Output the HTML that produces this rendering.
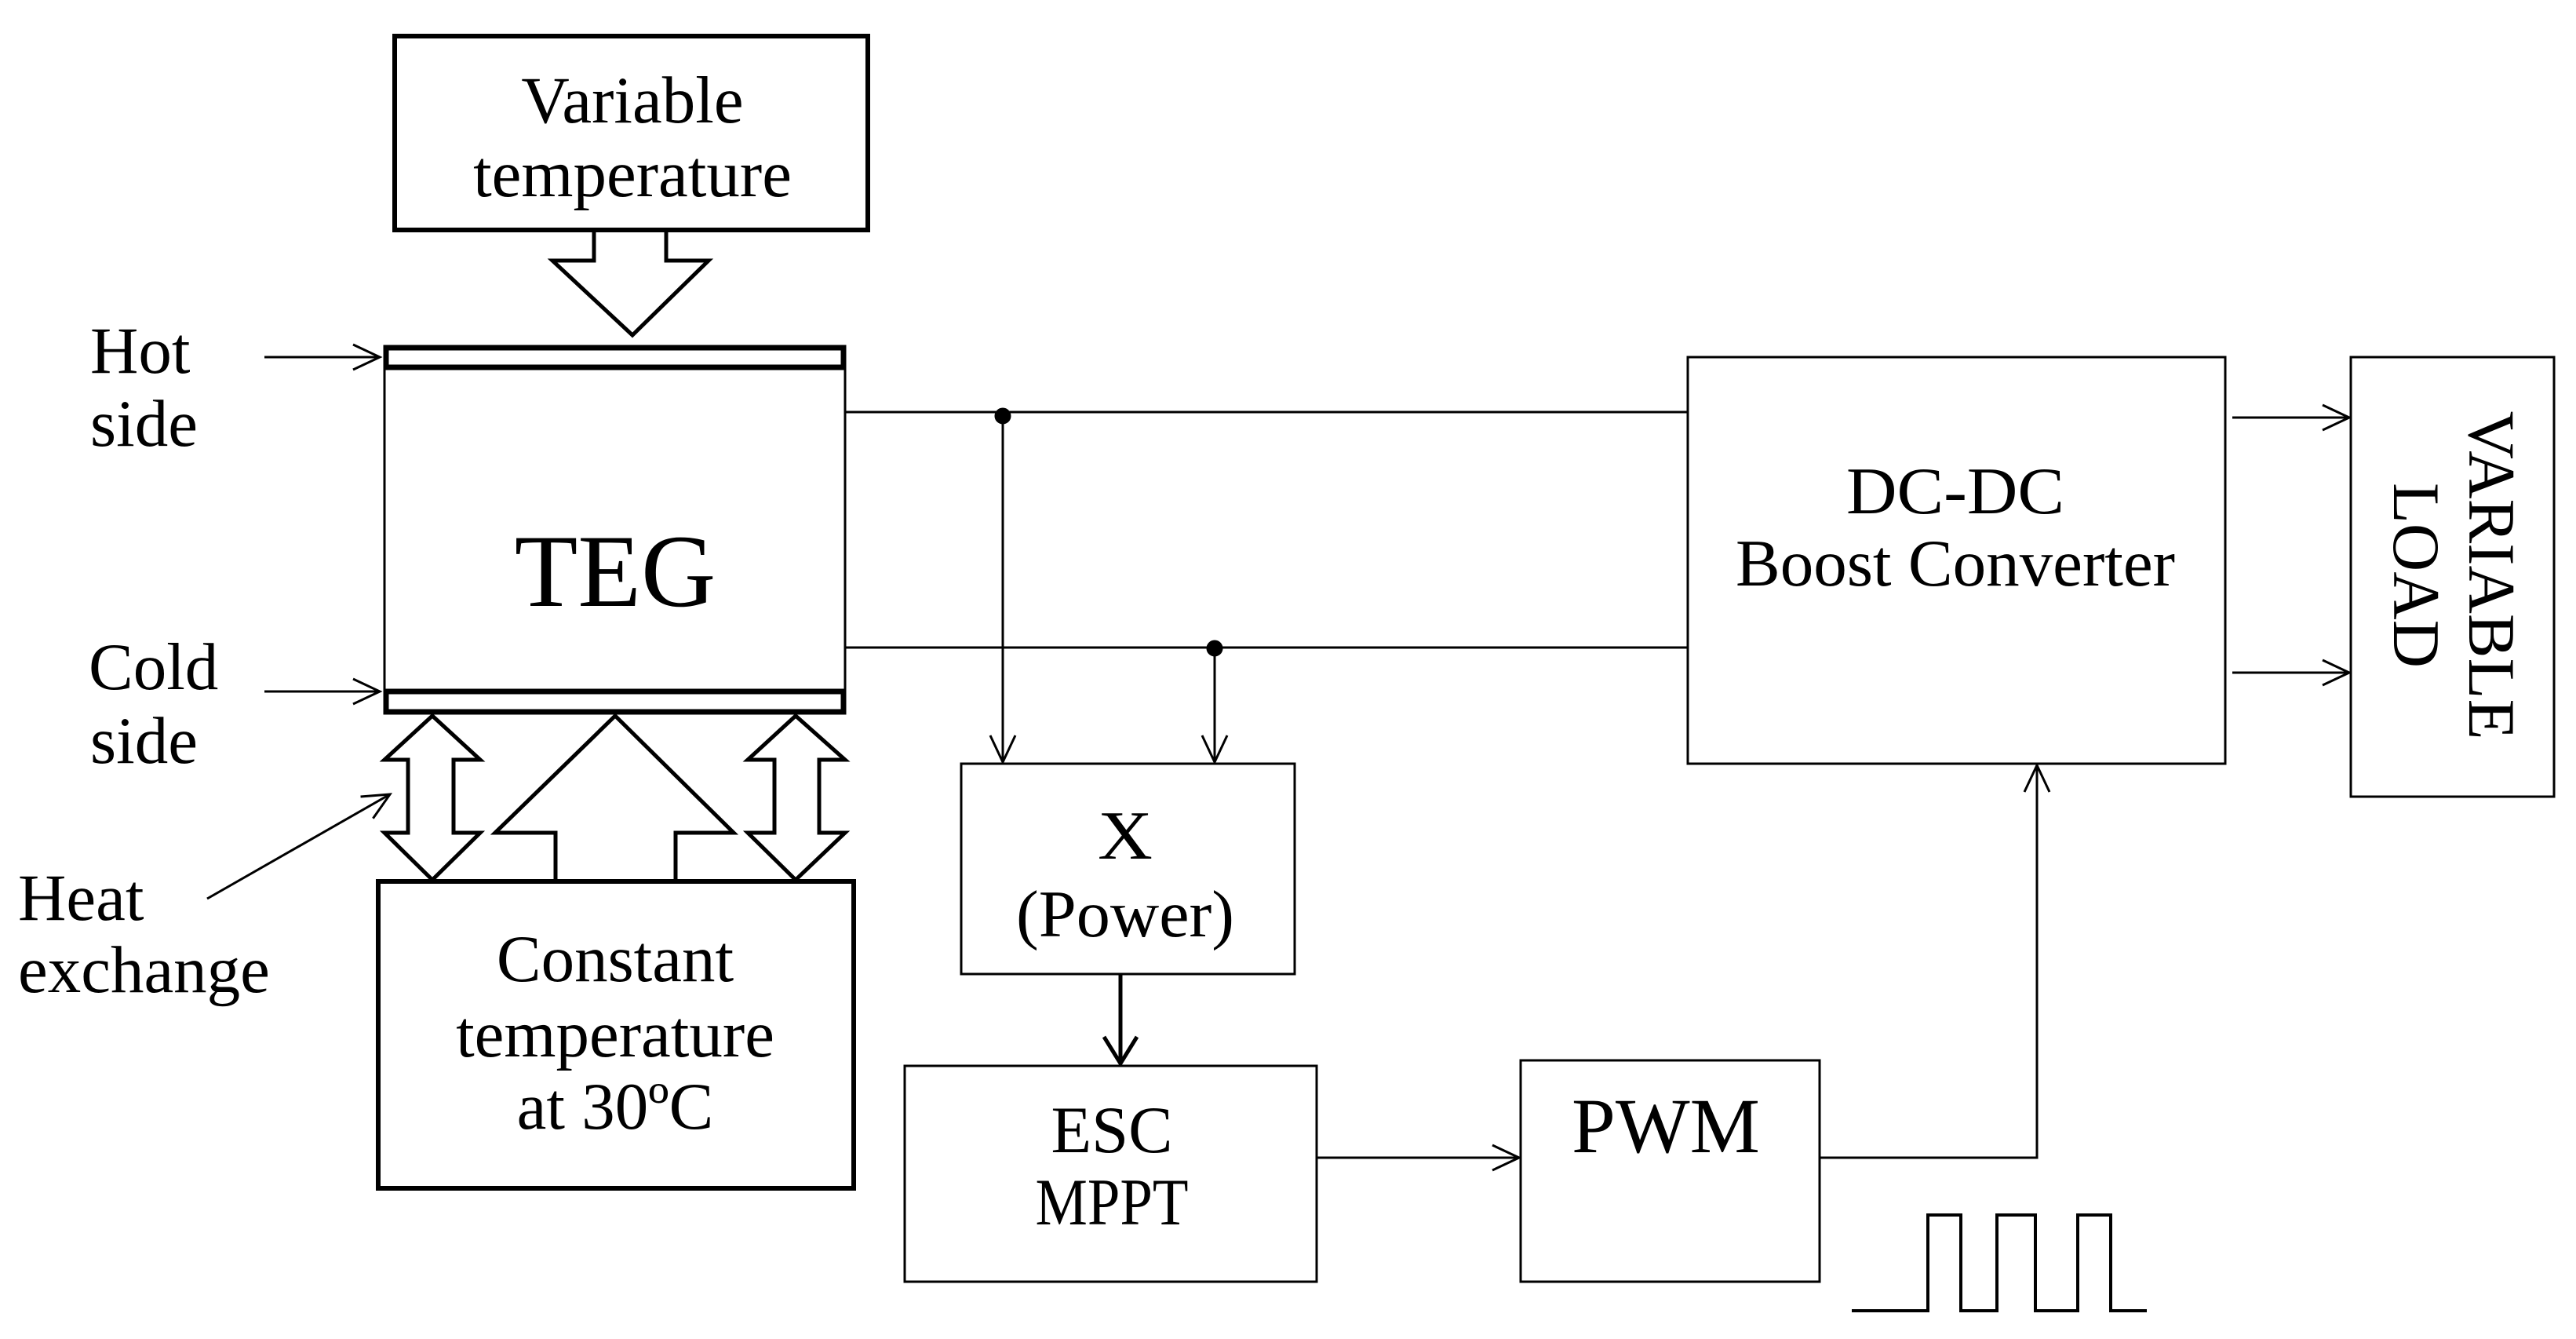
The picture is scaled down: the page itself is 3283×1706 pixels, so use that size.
<!DOCTYPE html>
<html><head><meta charset="utf-8"><style>html,body{margin:0;padding:0;background:#fff}svg{display:block}</style></head>
<body>
<svg width="3283" height="1706" viewBox="0 0 3283 1706" xmlns="http://www.w3.org/2000/svg" font-family="'Liberation Serif', serif" fill="none" stroke="#000">
<defs>
<marker id="a" markerWidth="40" markerHeight="40" refX="36" refY="20" orient="auto" markerUnits="userSpaceOnUse">
<path d="M2,4 L36,20 L2,36" stroke="#000" stroke-width="3" fill="none"/></marker>
<marker id="b" markerWidth="40" markerHeight="50" refX="36" refY="25" orient="auto" markerUnits="userSpaceOnUse">
<path d="M2,4 L36,25 L2,46" stroke="#000" stroke-width="5" fill="none"/></marker>
</defs>
<rect x="503" y="46" width="603" height="247" stroke-width="6"/>
<path d="M757,293 V332 H704 L806,427 L903,332 H849 V293" stroke-width="5"/>
<rect x="490" y="470" width="587" height="409" stroke-width="3"/>
<rect x="492" y="443" width="583" height="25" stroke-width="7"/>
<rect x="492" y="881" width="583" height="26" stroke-width="7"/>
<path d="M551,912 L612,968 H578 V1061 H612 L551,1121 L490,1061 H520 V968 H490 Z" stroke-width="5"/>
<path d="M1014,912 L1077,968 H1044 V1061 H1077 L1014,1121 L953,1061 H987 V968 H953 Z" stroke-width="5"/>
<path d="M708,1123 V1061 H631 L784,912 L935,1061 H861 V1123" stroke-width="5"/>
<rect x="482" y="1123" width="606" height="391" stroke-width="6"/>
<line x1="337" y1="455" x2="484" y2="455" stroke-width="3" marker-end="url(#a)"/>
<line x1="337" y1="881" x2="484" y2="881" stroke-width="3" marker-end="url(#a)"/>
<line x1="264" y1="1145" x2="497" y2="1012" stroke-width="3" marker-end="url(#a)"/>
<line x1="1077" y1="525" x2="2151" y2="525" stroke-width="3"/>
<line x1="1077" y1="825" x2="2151" y2="825" stroke-width="3"/>
<circle cx="1278" cy="530" r="10" fill="#000"/>
<circle cx="1548" cy="826" r="10" fill="#000"/>
<line x1="1278" y1="530" x2="1278" y2="971" stroke-width="3" marker-end="url(#a)"/>
<line x1="1548" y1="826" x2="1548" y2="971" stroke-width="3" marker-end="url(#a)"/>
<rect x="1225" y="973" width="425" height="268" stroke-width="3"/>
<line x1="1428" y1="1241" x2="1428" y2="1355" stroke-width="5" marker-end="url(#b)"/>
<rect x="1153" y="1358" width="525" height="275" stroke-width="3"/>
<line x1="1678" y1="1475" x2="1936" y2="1475" stroke-width="3" marker-end="url(#a)"/>
<rect x="1938" y="1351" width="381" height="282" stroke-width="3"/>
<polyline points="2319,1475 2596,1475 2596,975" stroke-width="3" marker-end="url(#a)"/>
<rect x="2151" y="455" width="685" height="518" stroke-width="3"/>
<line x1="2845" y1="532" x2="2994" y2="532" stroke-width="3" marker-end="url(#a)"/>
<line x1="2845" y1="857" x2="2994" y2="857" stroke-width="3" marker-end="url(#a)"/>
<rect x="2996" y="455" width="259" height="560" stroke-width="3"/>
<polyline points="2360,1670 2457,1670 2457,1548 2499,1548 2499,1670 2545,1670 2545,1548 2594,1548 2594,1670 2648,1670 2648,1548 2690,1548 2690,1670 2736,1670" stroke-width="4"/>
<g fill="#000" stroke="none" text-anchor="middle" font-size="85">
<text x="806" y="156">Variable</text>
<text x="806" y="250">temperature</text>
<text x="784" y="772" font-size="132">TEG</text>
<text x="784" y="1250">Constant</text>
<text x="784" y="1346">temperature</text>
<text x="784" y="1438">at 30ºC</text>
<text x="1434" y="1094" font-size="88" textLength="70" lengthAdjust="spacingAndGlyphs">X</text>
<text x="1434" y="1193" textLength="278" lengthAdjust="spacingAndGlyphs">(Power)</text>
<text x="1417" y="1468" textLength="155" lengthAdjust="spacingAndGlyphs">ESC</text>
<text x="1417" y="1560" textLength="195" lengthAdjust="spacingAndGlyphs">MPPT</text>
<text x="2123" y="1468" font-size="100" textLength="240" lengthAdjust="spacingAndGlyphs">PWM</text>
<text x="2492" y="654" textLength="278" lengthAdjust="spacingAndGlyphs">DC-DC</text>
<text x="2492" y="746" textLength="560" lengthAdjust="spacingAndGlyphs">Boost Converter</text>
<g transform="translate(3125,733) rotate(90)">
<text x="0" y="-22">VARIABLE</text>
<text x="0" y="74">LOAD</text>
</g>
</g>
<g fill="#000" stroke="none" font-size="85">
<text x="115" y="475">Hot</text>
<text x="115" y="568">side</text>
<text x="113" y="878">Cold</text>
<text x="115" y="972">side</text>
<text x="23" y="1172">Heat</text>
<text x="23" y="1264">exchange</text>
</g>
</svg>
</body></html>
